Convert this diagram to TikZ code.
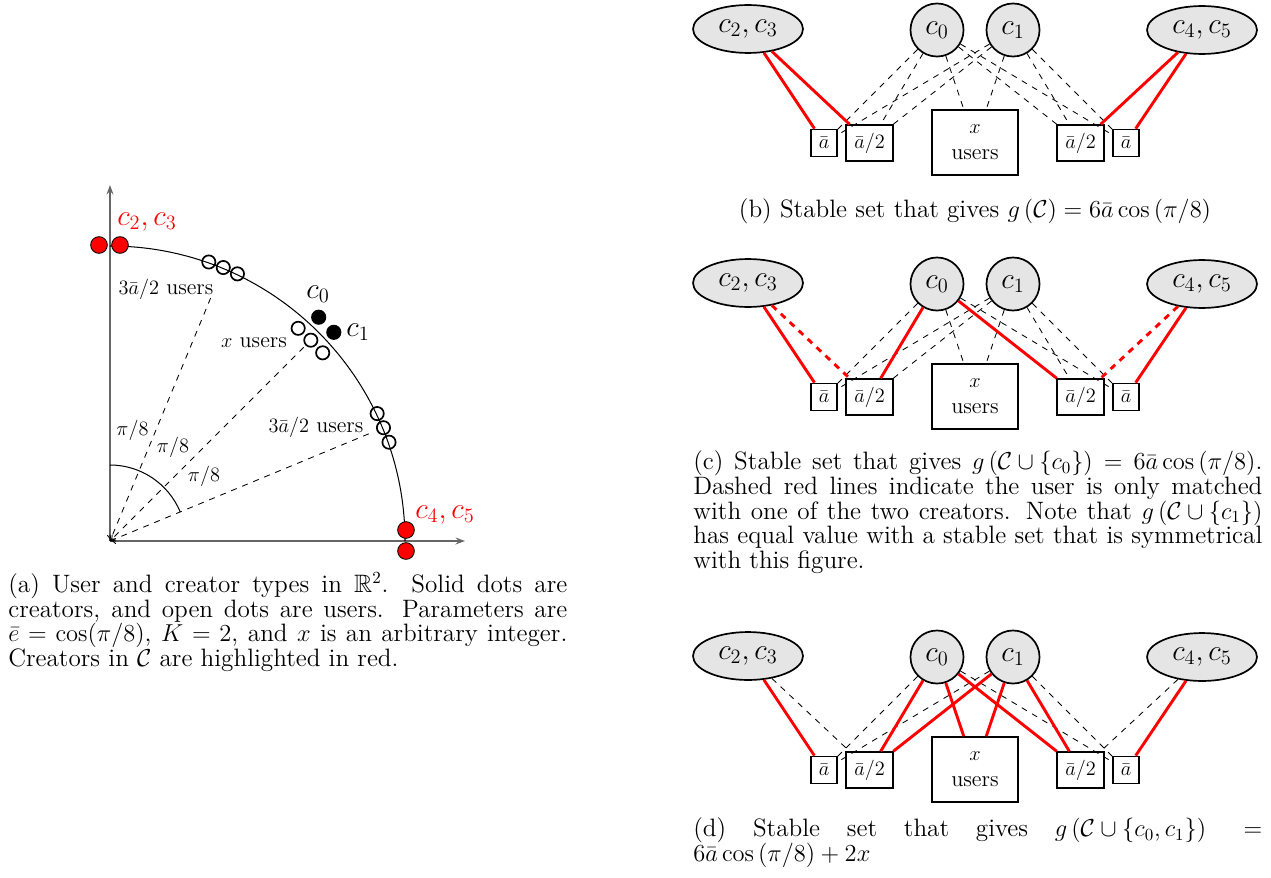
\documentclass[tikz,border=0pt]{standalone}
\usepackage{amsmath,amssymb}
\usetikzlibrary{shapes.geometric,arrows.meta}
\newcommand\capfont{\fontsize{14.8}{14.5}\selectfont\lineskiplimit=-20pt}
\newcommand\crefont{\fontsize{17.28}{20}\selectfont}
\newcommand\boxfont{\fontsize{13.1}{15.5}\selectfont}
\newcommand\ulabfont{\fontsize{13}{15}\selectfont}
\newcommand\pifont{\fontsize{12}{14}\selectfont}
\tikzset{
 cre/.style={draw, line width=1pt, fill=black!10, font=\crefont, inner sep=1pt},
 cell/.style={cre, ellipse, minimum width=64.7pt, minimum height=28.2pt},
 crc/.style={cre, circle, minimum size=31.2pt},
 ubox/.style={draw, rectangle, line width=1pt, inner sep=1pt, font=\boxfont},
 abox/.style={ubox, minimum width=15.3pt, minimum height=15.9pt},
 hbox/.style={ubox, minimum width=28pt, minimum height=21pt},
 xbox/.style={ubox, minimum width=50.6pt, minimum height=38.2pt, align=center},
 redl/.style={red, line width=1.7pt},
 redd/.style={red, line width=1.7pt, dash pattern=on 3.7pt off 3.5pt},
 dl/.style={line width=0.5pt, dash pattern=on 3.5pt off 3.5pt},
 axis/.style={black!60, line width=1.1pt, -{Stealth[length=5.5pt,width=4pt]}},
 user/.style={circle, draw, line width=1pt, minimum size=7.8pt, inner sep=0pt},
 crdot/.style={circle, fill=black, minimum size=8.9pt, inner sep=0pt},
 reddot/.style={circle, fill=red, draw=black, line width=0.5pt, minimum size=9.8pt, inner sep=0pt},
 captxt/.style={inner sep=0pt, align=justify, font=\capfont},
 lab/.style={inner sep=0pt}
}
\newcommand\mkgraph[2]{%
 \node[cell] (c23#1) at (748,{29+#2}) {$c_2,c_3$};
 \node[crc] (c0#1) at (937,{30+#2}) {$c_0$};
 \node[crc] (c1#1) at (1013,{30+#2}) {$c_1$};
 \node[cell] (c45#1) at (1202,{30+#2}) {$c_4,c_5$};
 \node[abox] (al#1) at (824,{143+#2}) {$\bar a$};
 \node[hbox] (hl#1) at (869.5,{143+#2}) {$\bar a/2$};
 \node[xbox] (ux#1) at (975,{142.5+#2}) {$x$\\users};
 \node[hbox] (hr#1) at (1080.5,{143+#2}) {$\bar a/2$};
 \node[abox] (ar#1) at (1126,{143+#2}) {$\bar a$};
}
\begin{document}
\begin{tikzpicture}[x=0.5882pt,y=-0.5882pt]
\fill[white] (0,0) rectangle (1271,877);
\useasboundingbox (0,0) rectangle (1271,877);

% ---------- panel (a) ----------
\coordinate (O) at (110,541);
\draw[axis] (O) -- (110,185);
\draw[axis] (O) -- (465,541);
\draw[line width=0.6pt] (110,246) arc[start angle=-90, end angle=0, radius=295];
\draw[line width=0.6pt] (110,465) arc[start angle=-90, end angle=-22.5, radius=76];
\path (O) ++(-67.5:263) coordinate (e1);
\path (O) ++(-45:274) coordinate (e2);
\path (O) ++(-22.5:280) coordinate (e3);
\draw[dl,->] (e1) -- (O);
\draw[dl,->] (e2) -- (O);
\draw[dl,->] (e3) -- (O);
\foreach \ang in {70.5,67.5,64.5,25.5,22.5,19.5} {\path (O) ++(-\ang:296) node[user] {};}
\foreach \ang in {48.5,45,41.5} {\path (O) ++(-\ang:284) node[user] {};}
\path (O) ++(-47:306) node[crdot] (d0) {};
\path (O) ++(-43:306) node[crdot] (d1) {};
\node[reddot] (r2) at (99,245) {};
\node[reddot] (r3) at (120,245) {};
\node[reddot] (r4) at (406,530) {};
\node[reddot] (r5) at (406,551) {};
\node[lab, red, font=\crefont] (l23) at (147,222) {$c_2,c_3$};
\node[lab, red, font=\crefont] (l45) at (445,515) {$c_4,c_5$};
\node[lab, font=\crefont] (l0) at (318,294) {$c_0$};
\node[lab, font=\crefont] (l1) at (358,332) {$c_1$};
\node[lab, font=\ulabfont] (u1) at (166,289) {$3\bar a/2$ users};
\node[lab, font=\ulabfont] (u2) at (254,343) {$x$ users};
\node[lab, font=\ulabfont] (u3) at (316,427) {$3\bar a/2$ users};
\node[lab, font=\pifont] (p1) at (132.5,430) {$\pi/8$};
\node[lab, font=\pifont] (p2) at (173,447) {$\pi/8$};
\node[lab, font=\pifont] (p3) at (204,476) {$\pi/8$};
\node[captxt, anchor=north west, text width=328.8pt] (capa) at (8,572.5) {\noindent(a) User and creator types in $\mathbb{R}^2$. Solid dots are\linebreak creators, and open dots are users. Parameters are\linebreak $\bar{e}=\cos(\pi/8)$, $K=2$, and $x$ is an arbitrary integer.\linebreak Creators in $\mathcal{C}$ are highlighted in red.};

% ---------- panel (b) ----------
\mkgraph{b}{0}
\foreach \uu in {al,hl,ux,hr,ar} {\draw[dl] (c0b) -- (\uu b); \draw[dl] (c1b) -- (\uu b);}
\draw[redl] (c23b) -- (alb);
\draw[redl] (c23b) -- (hlb);
\draw[redl] (c45b) -- (hrb);
\draw[redl] (c45b) -- (arb);
\node[lab, anchor=base, font=\capfont] (capb) at (975,217) {(b) Stable set that gives $g\left(\mathcal{C}\right)=6\bar{a}\cos\left(\pi/8\right)$};

% ---------- panel (c) ----------
\mkgraph{c}{254}
\foreach \uu in {al,hl,ux,hr,ar} {\draw[dl] (c1c) -- (\uu c);}
\draw[dl] (c0c) -- (alc);
\draw[dl] (c0c) -- (uxc);
\draw[dl] (c0c) -- (arc);
\draw[redl] (c23c) -- (alc);
\draw[redd] (c23c) -- (hlc);
\draw[redl] (c0c) -- (hlc);
\draw[redl] (c0c) -- (hrc);
\draw[redd] (c45c) -- (hrc);
\draw[redl] (c45c) -- (arc);
\node[captxt, anchor=north west, text width=334.7pt] (capc) at (693,450.5) {\noindent(c) Stable set that gives $g\left(\mathcal{C}\cup\{c_0\}\right)=6\bar{a}\cos\left(\pi/8\right)$.\linebreak Dashed red lines indicate the user is only matched\linebreak with one of the two creators. Note that $g\left(\mathcal{C}\cup\{c_1\}\right)$\linebreak has equal value with a stable set that is symmetrical\linebreak with this figure.};

% ---------- panel (d) ----------
\mkgraph{d}{627}
\draw[dl] (c23d) -- (hld);
\draw[dl] (c0d) -- (ald);
\draw[dl] (c0d) -- (ard);
\draw[dl] (c1d) -- (ald);
\draw[dl] (c1d) -- (ard);
\draw[dl] (c45d) -- (hrd);
\draw[redl] (c23d) -- (ald);
\draw[redl] (c0d) -- (hld);
\draw[redl] (c0d) -- (uxd);
\draw[redl] (c0d) -- (hrd);
\draw[redl] (c1d) -- (hld);
\draw[redl] (c1d) -- (uxd);
\draw[redl] (c1d) -- (hrd);
\draw[redl] (c45d) -- (ard);
\node[captxt, anchor=north west, text width=334.7pt] (capd) at (693,817.6) {\noindent(d) Stable set that gives $g\left(\mathcal{C}\cup\{c_0,c_1\}\right)=$\linebreak $6\bar{a}\cos\left(\pi/8\right)+2x$};
\end{tikzpicture}
\end{document}
